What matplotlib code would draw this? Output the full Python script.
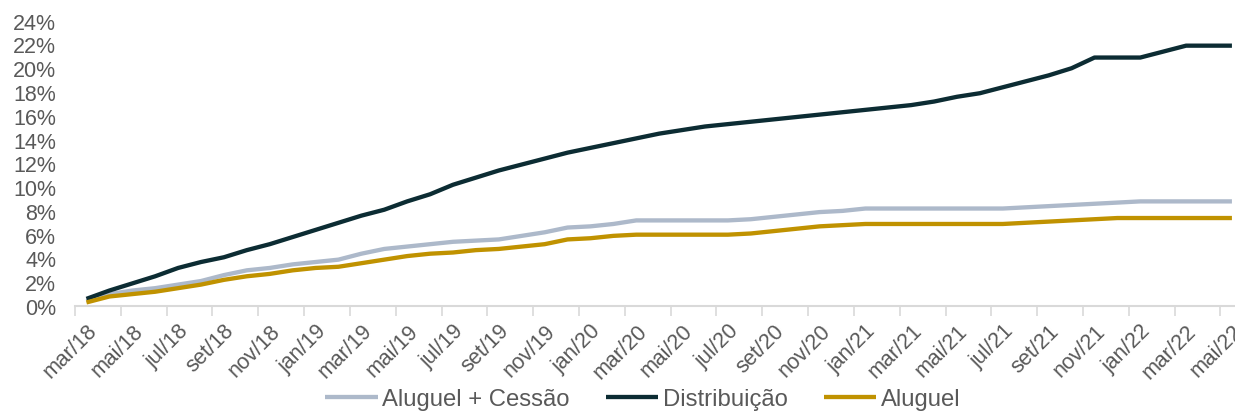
import numpy as np
import matplotlib
matplotlib.use('Agg')
import matplotlib.pyplot as plt
from matplotlib.ticker import FixedLocator

plt.rcParams['font.family'] = ['Liberation Sans', 'DejaVu Sans']

MESES = ['jan', 'fev', 'mar', 'abr', 'mai', 'jun', 'jul', 'ago', 'set', 'out', 'nov', 'dez']
# monthly from mar/18 to mai/22
months = [f"{MESES[(2 + k) % 12]}/{18 + (2 + k) // 12}" for k in range(51)]

aluguel_cessao = [0.4, 1.0, 1.3, 1.5, 1.8, 2.1, 2.6, 3.0, 3.2, 3.5,
                  3.7, 3.9, 4.4, 4.8, 5.0, 5.2, 5.4, 5.5, 5.6, 5.9,
                  6.2, 6.6, 6.7, 6.9, 7.2, 7.2, 7.2, 7.2, 7.2, 7.3,
                  7.5, 7.7, 7.9, 8.0, 8.2, 8.2, 8.2, 8.2, 8.2, 8.2,
                  8.2, 8.3, 8.4, 8.5, 8.6, 8.7, 8.8, 8.8, 8.8, 8.8, 8.8]
distribuicao = [0.6, 1.3, 1.9, 2.5, 3.2, 3.7, 4.1, 4.7, 5.2, 5.8,
                6.4, 7.0, 7.6, 8.1, 8.8, 9.4, 10.2, 10.8, 11.4, 11.9,
                12.4, 12.9, 13.3, 13.7, 14.1, 14.5, 14.8, 15.1, 15.3, 15.5,
                15.7, 15.9, 16.1, 16.3, 16.5, 16.7, 16.9, 17.2, 17.6, 17.9,
                18.4, 18.9, 19.4, 20.0, 20.9, 20.9, 20.9, 21.4, 21.9, 21.9, 21.9]
aluguel = [0.3, 0.8, 1.0, 1.2, 1.5, 1.8, 2.2, 2.5, 2.7, 3.0,
           3.2, 3.3, 3.6, 3.9, 4.2, 4.4, 4.5, 4.7, 4.8, 5.0,
           5.2, 5.6, 5.7, 5.9, 6.0, 6.0, 6.0, 6.0, 6.0, 6.1,
           6.3, 6.5, 6.7, 6.8, 6.9, 6.9, 6.9, 6.9, 6.9, 6.9,
           6.9, 7.0, 7.1, 7.2, 7.3, 7.4, 7.4, 7.4, 7.4, 7.4, 7.4]

TXT = '#595959'
x = np.arange(len(months))

fig = plt.figure(figsize=(12.35, 4.14), dpi=100)
ax = fig.add_axes([75 / 1235, 1 - 307 / 414, 1 - 75 / 1235 + 0.004, (307 - 21.7) / 414])

ax.plot(x, aluguel_cessao, color='#ADB9CA', lw=3.1, label='Aluguel + Cessão', solid_capstyle='butt')
ax.plot(x, distribuicao, color='#0C2C33', lw=3.1, label='Distribuição', solid_capstyle='butt')
ax.plot(x, aluguel, color='#C09200', lw=3.1, label='Aluguel', solid_capstyle='butt')

ax.set_ylim(0, 24)
ax.set_yticks(np.arange(0, 25, 2))
ax.set_yticklabels([f"{v}%" for v in range(0, 25, 2)], fontsize=15.5, color=TXT)
ax.set_xlim(-0.5, 50.35)
ax.set_xticks(x[::2])
ax.set_xticklabels(months[::2], rotation=45, ha='right', va='top', rotation_mode='anchor',
                   fontsize=15.5, color=TXT)
ax.xaxis.set_minor_locator(FixedLocator(np.arange(-0.5, 51, 2)))
ax.tick_params(axis='x', which='major', length=0, pad=10)
ax.tick_params(axis='x', which='minor', length=7, color='#D9D9D9', width=1.2)
ax.tick_params(axis='y', length=0, pad=13.5)
for s in ['top', 'right', 'left']:
    ax.spines[s].set_visible(False)
ax.spines['bottom'].set_color('#D9D9D9')
ax.spines['bottom'].set_linewidth(1.5)

fig.legend(loc='center', bbox_to_anchor=(643 / 1235, 0.034), ncol=3, frameon=False,
           fontsize=17.2, handlelength=2.2, columnspacing=1.5, handletextpad=0.2, labelcolor=TXT)

fig.savefig('out.png', dpi=100)
